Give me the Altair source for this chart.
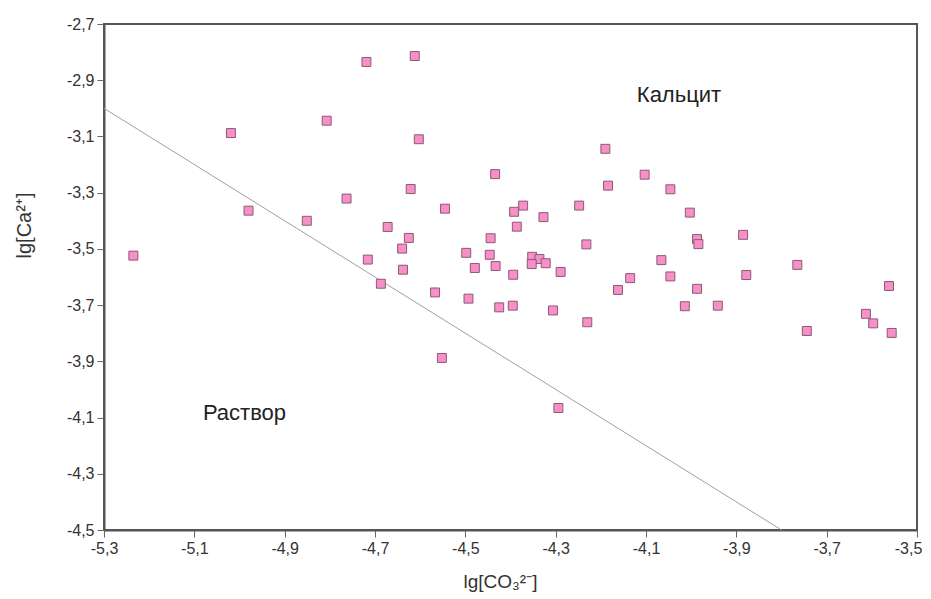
import altair as alt
import pandas as pd

# lg[CO3 2-] values
x_vals = [-5.235, -5.019, -4.980, -4.807, -4.851, -4.763, -4.719, -4.612, -4.603, -4.434,
          -4.621, -4.545, -4.672, -4.392, -4.386, -4.625, -4.640, -4.716, -4.444, -4.498,
          -4.446, -4.638, -4.479, -4.433, -4.394, -4.687, -4.567, -4.493, -4.425, -4.395,
          -4.552, -4.190, -4.103, -4.184, -4.046, -4.003, -4.372, -4.248, -4.327, -3.885,
          -3.987, -3.984, -4.232, -4.352, -4.336, -4.353, -4.322, -4.066, -3.765, -4.289,
          -4.135, -4.046, -3.878, -3.562, -4.162, -3.987, -4.306, -4.014, -3.941, -3.613,
          -3.597, -3.556, -3.744, -4.230, -4.294]
# lg[Ca 2+] values
y_vals = [-3.524, -3.088, -3.364, -3.044, -3.400, -3.321, -2.835, -2.814, -3.110, -3.234,
          -3.287, -3.357, -3.422, -3.368, -3.421, -3.461, -3.499, -3.538, -3.462, -3.514,
          -3.521, -3.574, -3.568, -3.561, -3.592, -3.624, -3.655, -3.677, -3.708, -3.702,
          -3.888, -3.144, -3.236, -3.275, -3.288, -3.371, -3.346, -3.346, -3.387, -3.450,
          -3.465, -3.483, -3.484, -3.528, -3.536, -3.554, -3.551, -3.540, -3.557, -3.582,
          -3.604, -3.598, -3.593, -3.632, -3.646, -3.642, -3.719, -3.704, -3.702, -3.731,
          -3.765, -3.799, -3.792, -3.761, -4.066]

# equilibrium line lg[Ca] + lg[CO3] = -8.3
line_x = [-5.3, -3.8]
line_y = [-3.0, -4.5]

label_text = ["Кальцит", "Раствор"]
label_x = [-4.027, -4.989]
label_y = [-2.953, -4.084]

x_ticks = [-5.3, -5.1, -4.9, -4.7, -4.5, -4.3, -4.1, -3.9, -3.7, -3.5]
y_ticks = [-4.5, -4.3, -4.1, -3.9, -3.7, -3.5, -3.3, -3.1, -2.9, -2.7]

pts = pd.DataFrame({"x": x_vals, "y": y_vals})
ln = pd.DataFrame({"x": line_x, "y": line_y})
lab = pd.DataFrame({"x": label_x, "y": label_y, "t": label_text})

label_expr = "replace(replace(format(datum.value, '.1f'), '.', ','), '\u2212', '-')"
FONT = "Liberation Sans"

xscale = alt.Scale(domain=[-5.3, -3.5], nice=False, zero=False)
yscale = alt.Scale(domain=[-4.5, -2.7], nice=False, zero=False)

xaxis = alt.Axis(values=x_ticks, labelExpr=label_expr, title="lg[CO₃²⁻]", grid=False,
                 tickSize=7, tickColor="#666", domainColor="#555", domainWidth=2,
                 labelFontSize=16, labelColor="#333", labelFont=FONT, labelPadding=3,
                 labelFlush=False, labelOverlap=False, labelBound=False,
                 labelOffset={"condition": {"test": "datum.value > -3.55", "value": -9}, "value": 0},
                 titleFontSize=19, titleFont=FONT, titleColor="#333", titleFontWeight="normal",
                 titlePadding=16, titleX=396)
yaxis = alt.Axis(values=y_ticks, labelExpr=label_expr, title="lg[Ca²⁺]", grid=False,
                 tickSize=7, tickColor="#666", domainColor="#555", domainWidth=2,
                 labelFontSize=16, labelColor="#333", labelFont=FONT, labelPadding=3,
                 labelFlush=False, labelOverlap=False,
                 titleFontSize=20, titleFont=FONT, titleColor="#333", titleFontWeight="normal",
                 titlePadding=32, titleY=201)

points = alt.Chart(pts).mark_point(shape="square", filled=True, size=80, fill="#f98fc9",
                                   stroke="#8a5a72", strokeWidth=1, opacity=1).encode(
    x=alt.X("x:Q", scale=xscale, axis=xaxis),
    y=alt.Y("y:Q", scale=yscale, axis=yaxis),
)

line = alt.Chart(ln).mark_line(color="#a0a0a0", strokeWidth=1).encode(
    x=alt.X("x:Q", scale=xscale),
    y=alt.Y("y:Q", scale=yscale),
)

texts = alt.Chart(lab).mark_text(fontSize=22, font=FONT, color="#222").encode(
    x=alt.X("x:Q", scale=xscale),
    y=alt.Y("y:Q", scale=yscale),
    text="t:N",
)

chart = alt.layer(line, points, texts).properties(
    width=813, height=506,
    autosize=alt.AutoSizeParams(type="none"),
    padding={"left": 96, "top": 16, "right": 6, "bottom": 70},
).configure_view(stroke="#555", strokeWidth=2)

chart.save("out.html", embed_options={"renderer": "svg", "actions": False})
